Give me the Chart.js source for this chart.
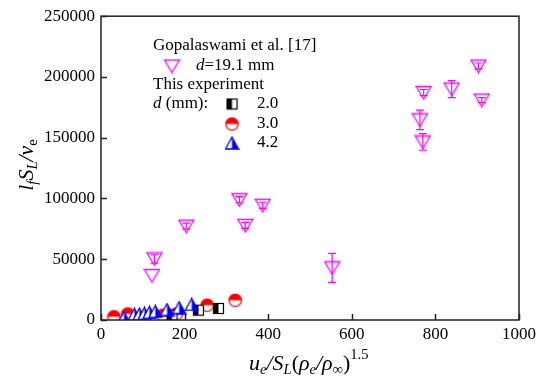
<!DOCTYPE html>
<html>
<head>
<meta charset="utf-8">
<script src="https://cdn.jsdelivr.net/npm/chart.js@4.4.1/dist/chart.umd.min.js"></script>
<style>
  html, body { margin: 0; padding: 0; background: #fff; }
  #wrap { width: 545px; height: 379px; }
</style>
</head>
<body>
<div id="wrap"><canvas id="chart"></canvas></div>
<script>
// Gopalaswami et al. [17], d = 19.1 mm
const gopX = [122, 128, 204, 331, 345, 387, 553, 763, 770, 772, 839, 903, 911];
const gopY = [36600, 50200, 77300, 99000, 77900, 94400, 42900, 164700, 146500, 187200, 190000, 209000, 181000];
const gopErr = [0, 3500, 2500, 2500, 2500, 2500, 12000, 8000, 6800, 2500, 7000, 2500, 2000];

// this experiment
const d20X = [170, 233, 281];
const d20Y = [4000, 8100, 9500];
const d30X = [31, 64, 148, 180, 254, 321];
const d30Y = [2700, 5000, 4000, 4900, 12200, 16300];
const d42X = [55, 80, 92, 104, 116, 130, 158, 187, 217];
const d42Y = [2000, 4600, 4800, 5400, 6200, 7000, 8600, 10200, 12800];

const xTicks = [0, 200, 400, 600, 800, 1000];
const yTicks = [0, 50000, 100000, 150000, 200000, 250000];

const SERIF = '"Liberation Serif", "Times New Roman", serif';

function pts(xs, ys) {
    return xs.map((x, i) => ({ x: x, y: ys[i] }));
}

function makeMarker(w, h, draw) {
    const c = document.createElement('canvas');
    c.width = w;
    c.height = h;
    draw(c.getContext('2d'));
    return c;
}

const squareMark = makeMarker(13, 13, g => {
    g.fillStyle = '#fff';
    g.fillRect(1, 1, 11, 11);
    g.fillStyle = '#000';
    g.fillRect(1, 1, 5.5, 11);
    g.strokeStyle = '#000';
    g.lineWidth = 1.2;
    g.strokeRect(1.5, 1.5, 10, 10);
});

const circleMark = makeMarker(15, 15, g => {
    g.fillStyle = '#fff';
    g.beginPath(); g.arc(7.5, 7.5, 6.2, 0, Math.PI * 2); g.fill();
    g.fillStyle = '#ff0000';
    g.beginPath(); g.arc(7.5, 7.5, 6.2, Math.PI, 0); g.closePath(); g.fill();
    g.strokeStyle = '#ff0000';
    g.lineWidth = 1.3;
    g.beginPath(); g.arc(7.5, 7.5, 6.2, 0, Math.PI * 2); g.stroke();
});

const triMark = makeMarker(15, 14, g => {
    g.fillStyle = '#fff';
    g.beginPath(); g.moveTo(7.5, 1); g.lineTo(14, 13); g.lineTo(1, 13); g.closePath(); g.fill();
    g.fillStyle = '#0000ff';
    g.beginPath(); g.moveTo(7.5, 1); g.lineTo(14, 13); g.lineTo(7.5, 13); g.closePath(); g.fill();
    g.strokeStyle = '#0000ff';
    g.lineWidth = 1.3;
    g.beginPath(); g.moveTo(7.5, 1); g.lineTo(14, 13); g.lineTo(1, 13); g.closePath(); g.stroke();
});

const invTriMark = makeMarker(17, 15, g => {
    g.strokeStyle = '#ff00ff';
    g.lineWidth = 1.3;
    g.beginPath(); g.moveTo(1, 1.5); g.lineTo(16, 1.5); g.lineTo(8.5, 14); g.closePath(); g.stroke();
});

// draw text made of pieces (italic, subscript, superscript)
function richWidth(ctx, parts, size) {
    let w = 0;
    parts.forEach(p => {
        const s = p[1] === 'n' ? size : size * 0.66;
        ctx.font = (p[2] ? 'italic ' : '') + s + 'px ' + SERIF;
        w += ctx.measureText(p[0]).width;
    });
    return w;
}

function drawRich(ctx, parts, x, y, size) {
    let cx = x;
    parts.forEach(p => {
        const s = p[1] === 'n' ? size : size * 0.66;
        ctx.font = (p[2] ? 'italic ' : '') + s + 'px ' + SERIF;
        let dy = 0;
        if (p[1] === 'sub') dy = size * 0.28;
        if (p[1] === 'sup') dy = -size * 0.42;
        ctx.fillText(p[0], cx, y + dy);
        cx += ctx.measureText(p[0]).width;
    });
}

const xTitle = [['u', 'n', 1], ['e', 'sub', 1], ['/', 'n', 1], ['S', 'n', 1], ['L', 'sub', 1], ['(', 'n', 0],
    ['\u03c1', 'n', 1], ['e', 'sub', 1], ['/', 'n', 1], ['\u03c1', 'n', 1], ['\u221e', 'sub', 0], [')', 'n', 0], ['1.5', 'sup', 0]];
const yTitle = [['l', 'n', 1], ['f', 'sub', 1], ['S', 'n', 1], ['L', 'sub', 1], ['/', 'n', 1], ['\u03bd', 'n', 1], ['e', 'sub', 0]];

const framePlugin = {
    id: 'frame',
    afterDatasetsDraw(chart) {
        const ctx = chart.ctx;
        const a = chart.chartArea;
        const xs = chart.scales.x, ys = chart.scales.y;
        ctx.save();

        // error bars of the Gopalaswami points
        ctx.strokeStyle = '#ff00ff';
        ctx.lineWidth = 1.2;
        gopX.forEach((x, i) => {
            if (!gopErr[i]) return;
            const px = xs.getPixelForValue(x);
            const top = ys.getPixelForValue(gopY[i] + gopErr[i]);
            const bot = ys.getPixelForValue(gopY[i] - gopErr[i]);
            ctx.beginPath();
            ctx.moveTo(px, top); ctx.lineTo(px, bot);
            ctx.moveTo(px - 4, top); ctx.lineTo(px + 4, top);
            ctx.moveTo(px - 4, bot); ctx.lineTo(px + 4, bot);
            ctx.stroke();
        });

        // box and inward ticks
        ctx.strokeStyle = '#222';
        ctx.lineWidth = 1.5;
        ctx.strokeRect(a.left, a.top, a.right - a.left, a.bottom - a.top);
        ctx.beginPath();
        xTicks.forEach(v => {
            const px = Math.round(xs.getPixelForValue(v)) + 0.5;
            ctx.moveTo(px, a.bottom); ctx.lineTo(px, a.bottom - 6);
        });
        yTicks.forEach(v => {
            const py = Math.round(ys.getPixelForValue(v)) + 0.5;
            ctx.moveTo(a.left, py); ctx.lineTo(a.left + 6, py);
        });
        ctx.stroke();
        ctx.restore();
    },
    afterDraw(chart) {
        const ctx = chart.ctx;
        ctx.save();
        ctx.fillStyle = '#000';
        ctx.textBaseline = 'middle';
        ctx.textAlign = 'left';

        // axis titles
        drawRich(ctx, xTitle, 249, 364, 22);
        ctx.save();
        ctx.translate(27, 165);
        ctx.rotate(-Math.PI / 2);
        const yw = richWidth(ctx, yTitle, 22);
        drawRich(ctx, yTitle, -yw / 2, 0, 22);
        ctx.restore();

        // legend
        const f = '17px ' + SERIF;
        ctx.font = f;
        ctx.fillText('Gopalaswami et al. [17]', 153, 46);
        ctx.drawImage(invTriMark, 172 - 8.5, 66 - 7.5);
        drawRich(ctx, [['d', 'n', 1], ['=19.1 mm', 'n', 0]], 196, 66, 17);
        ctx.font = f;
        ctx.fillText('This experiment', 153, 85);
        drawRich(ctx, [['d', 'n', 1], [' (mm):', 'n', 0]], 153, 104, 17);
        ctx.font = f;
        ctx.drawImage(squareMark, 232 - 6.5, 104 - 6.5);
        ctx.fillText('2.0', 257, 104);
        ctx.drawImage(circleMark, 232 - 7.5, 124 - 7.5);
        ctx.fillText('3.0', 257, 124);
        ctx.drawImage(triMark, 232 - 7.5, 143 - 7);
        ctx.fillText('4.2', 257, 143);
        ctx.restore();
    }
};

new Chart(document.getElementById('chart').getContext('2d'), {
    type: 'scatter',
    data: {
        datasets: [
            { label: '4.2', data: pts(d42X, d42Y), pointStyle: triMark, pointRadius: 7 },
            { label: '2.0', data: pts(d20X, d20Y), pointStyle: squareMark, pointRadius: 6 },
            { label: '3.0', data: pts(d30X, d30Y), pointStyle: circleMark, pointRadius: 7 },
            { label: 'd=19.1 mm', data: pts(gopX, gopY), pointStyle: invTriMark, pointRadius: 8 }
        ]
    },
    options: {
        responsive: true,
        maintainAspectRatio: false,
        animation: false,
        layout: { padding: { top: 13, right: 26, left: 0, bottom: 0 } },
        plugins: {
            legend: { display: false },
            tooltip: { enabled: false }
        },
        scales: {
            x: {
                type: 'linear',
                min: 0,
                max: 1000,
                afterFit: s => { s.height = 59; },
                afterBuildTicks: s => { s.ticks = xTicks.map(v => ({ value: v })); },
                ticks: { color: '#000', padding: 4, maxRotation: 0, font: { family: SERIF, size: 17 }, callback: v => String(v) },
                grid: { display: false, drawTicks: false },
                border: { display: false }
            },
            y: {
                type: 'linear',
                min: 0,
                max: 250000,
                afterFit: s => { s.width = 101; },
                afterBuildTicks: s => { s.ticks = yTicks.map(v => ({ value: v })); },
                ticks: { color: '#000', padding: 6, font: { family: SERIF, size: 17 }, callback: v => String(v) },
                grid: { display: false, drawTicks: false },
                border: { display: false }
            }
        }
    },
    plugins: [framePlugin]
});
</script>
</body>
</html>
